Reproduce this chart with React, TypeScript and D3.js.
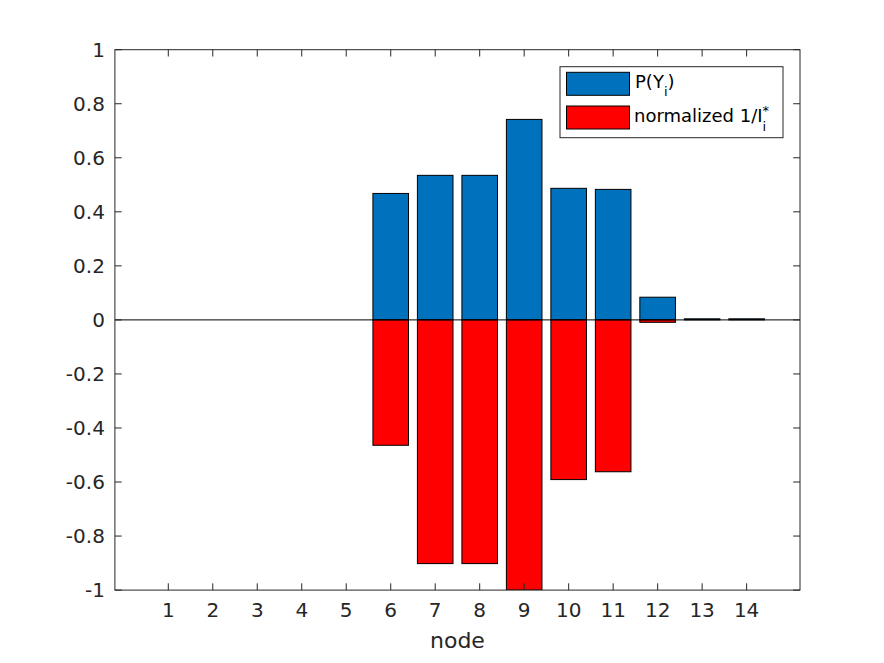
import React from "react";
import * as d3 from "d3";

const nodes = [1, 2, 3, 4, 5, 6, 7, 8, 9, 10, 11, 12, 13, 14];
const pY = [0, 0, 0, 0, 0, 0.468, 0.535, 0.535, 0.742, 0.487, 0.483, 0.084, 0.004, 0.004];
const invI = [0, 0, 0, 0, 0, -0.464, -0.902, -0.902, -1.0, -0.591, -0.562, -0.009, 0, 0];
const yTicks = [-1, -0.8, -0.6, -0.4, -0.2, 0, 0.2, 0.4, 0.6, 0.8, 1];
const seriesColors = ["#0072BD", "#FF0000"];

const W = 884;
const H = 663;
const left = 114.9;
const right = 800;
const top = 49.7;
const bottom = 590.1;
const font = "DejaVu Sans, sans-serif";
const textColor = "#262626";
const axisColor = "#262626";

export default function App() {
  const x = d3.scaleLinear().domain([-0.2, 15.2]).range([left, right]);
  const y = d3.scaleLinear().domain([-1, 1]).range([bottom, top]);
  const bw = x(0.8) - x(0);
  const tickLen = 6.8;

  const bars = (vals: number[], color: string) =>
    vals.map((v, i) => {
      const vv = Math.max(-1, Math.min(1, v));
      const y0 = y(Math.max(0, vv));
      const y1 = y(Math.min(0, vv));
      return (
        <rect
          key={color + i}
          x={x(nodes[i]) - bw / 2}
          y={y0}
          width={bw}
          height={Math.max(0, y1 - y0)}
          fill={color}
          stroke="#000"
          strokeWidth={1}
        />
      );
    });

  return (
    <svg width={W} height={H} style={{ display: "block", position: "absolute", left: 0, top: 0, background: "#fff" }}>
      <rect x={0} y={0} width={W} height={H} fill="#fff" />
      <defs>
        <clipPath id="clip">
          <rect x={left} y={top} width={right - left} height={bottom - top} />
        </clipPath>
      </defs>
      <g clipPath="url(#clip)">
        {bars(pY, seriesColors[0])}
        {bars(invI, seriesColors[1])}
        <line x1={left} x2={right} y1={y(0)} y2={y(0)} stroke="#000" strokeWidth={1} />
      </g>
      <rect x={left} y={top} width={right - left} height={bottom - top} fill="none" stroke={axisColor} strokeWidth={1} />
      {nodes.map((n) => (
        <g key={"xt" + n}>
          <line x1={x(n)} x2={x(n)} y1={bottom} y2={bottom - tickLen} stroke={axisColor} />
          <line x1={x(n)} x2={x(n)} y1={top} y2={top + tickLen} stroke={axisColor} />
          <text x={x(n)} y={bottom + 20} textAnchor="middle" dominantBaseline="central" fontFamily={font} fontSize={20} fill={textColor}>
            {n}
          </text>
        </g>
      ))}
      {yTicks.map((t) => (
        <g key={"yt" + t}>
          <line x1={left} x2={left + tickLen} y1={y(t)} y2={y(t)} stroke={axisColor} />
          <line x1={right} x2={right - tickLen} y1={y(t)} y2={y(t)} stroke={axisColor} />
          <text x={left - 10} y={y(t)} textAnchor="end" dominantBaseline="central" fontFamily={font} fontSize={20} fill={textColor}>
            {String(t)}
          </text>
        </g>
      ))}
      <text x={(left + right) / 2} y={648} textAnchor="middle" fontFamily={font} fontSize={22} fill={textColor}>
        node
      </text>
      <g>
        <rect x={560} y={66.7} width={223} height={71} fill="#fff" stroke={axisColor} strokeWidth={1} />
        <rect x={566.5} y={72.3} width={63} height={23} fill={seriesColors[0]} stroke="#000" />
        <rect x={566.5} y={106} width={63} height={23} fill={seriesColors[1]} stroke="#000" />
        <text x={635} y={88.3} fontFamily={font} fontSize={18} fill="#000">
          P(Y
          <tspan fontSize={13} dy={8}>i</tspan>
          <tspan dy={-8}>)</tspan>
        </text>
        <text x={634} y={122.3} fontFamily={font} fontSize={18} fill="#000">
          normalized 1/I
          <tspan fontSize={13} dy={8.5}>i</tspan>
          <tspan fontSize={13} dx={-3.6} dy={-15.5}>*</tspan>
        </text>
      </g>
    </svg>
  );
}
